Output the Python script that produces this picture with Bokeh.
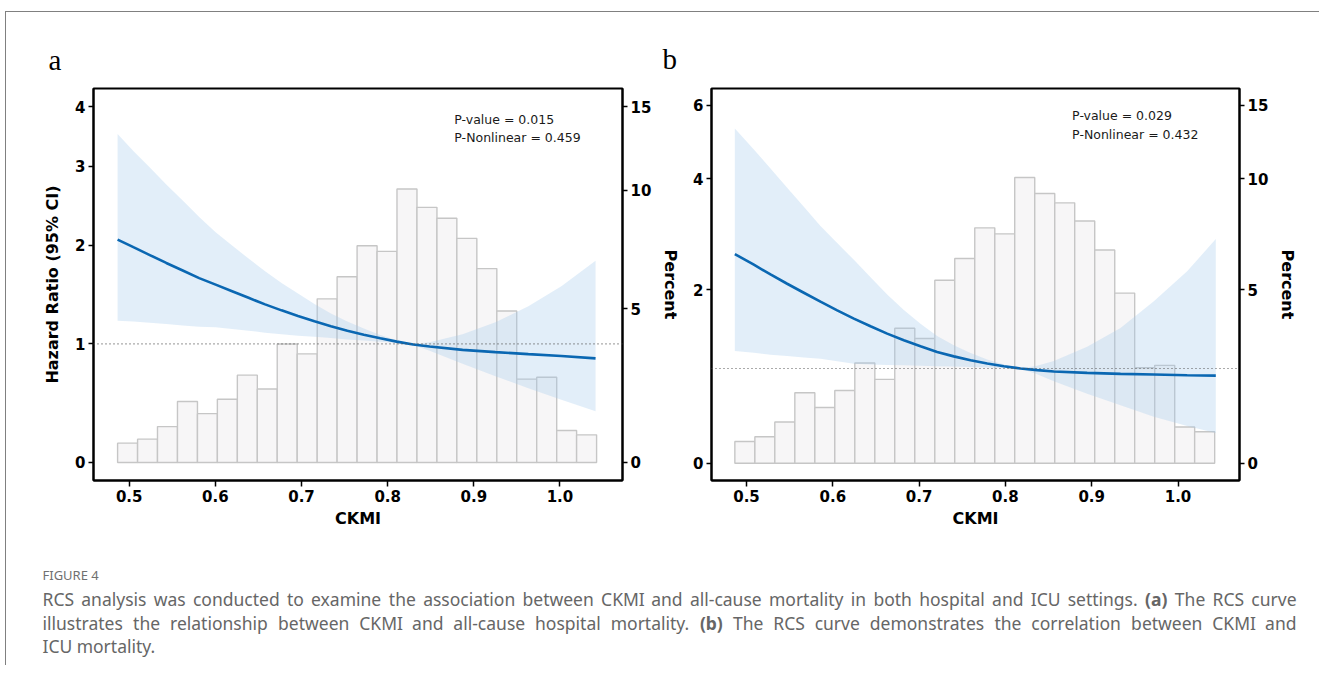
import numpy as np
from bokeh.plotting import figure
from bokeh.layouts import row, column
from bokeh.models import (Range1d, FixedTicker, CustomJSTickFormatter, LinearAxis,
                          Span, Label, CustomJSTransform, ColumnDataSource)
from bokeh.transform import transform
from bokeh.core.properties import value
from bokeh.embed import file_html
from bokeh.resources import INLINE

# ---------------- data ----------------
bin_edges = [0.4865, 0.5097, 0.5328, 0.5560, 0.5792, 0.6023, 0.6255, 0.6487, 0.6718,
             0.6950, 0.7182, 0.7413, 0.7645, 0.7877, 0.8108, 0.8340, 0.8572, 0.8803,
             0.9035, 0.9267, 0.9498, 0.9730, 0.9962, 1.0193, 1.0425]

# histogram of CKMI (percent) - panel a (hospital) and panel b (ICU)
pct_a = [0.57, 0.69, 1.07, 1.85, 1.47, 1.92, 2.70, 2.25, 3.75, 3.41, 5.37, 6.22,
         7.48, 7.24, 10.07, 9.18, 8.68, 7.79, 6.54, 4.92, 2.57, 2.63, 0.95, 0.82]
pct_b = [0.54, 0.66, 1.04, 1.82, 1.42, 1.88, 2.66, 2.19, 3.71, 3.39, 5.34, 6.17,
         7.47, 7.20, 10.09, 9.18, 8.68, 7.79, 6.51, 4.88, 2.52, 2.59, 0.91, 0.79]

# RCS curve + 95% CI, panel a
ckmi_a = [0.4865, 0.5048, 0.5239, 0.5430, 0.5621, 0.5812, 0.6003, 0.6194, 0.6385,
          0.6577, 0.6768, 0.6959, 0.7150, 0.7341, 0.7532, 0.7723, 0.7914, 0.8105,
          0.8296, 0.8487, 0.8869, 0.9251, 0.9633, 1.0016, 1.0413]
hr_a = [2.064, 1.978, 1.8905, 1.8045, 1.724, 1.644, 1.576, 1.509, 1.4425, 1.377,
        1.3185, 1.2645, 1.2135, 1.1665, 1.123, 1.086, 1.052, 1.0215, 0.9945, 0.976,
        0.946, 0.925, 0.907, 0.8895, 0.8685]
lo_a = [1.217, 1.2118, 1.1994, 1.1856, 1.1731, 1.1608, 1.1559, 1.1405, 1.1234, 1.105,
        1.0904, 1.0765, 1.0656, 1.0555, 1.0418, 1.031, 1.0209, 1.0093, 0.990, 0.9378,
        0.8216, 0.7111, 0.6056, 0.5076, 0.4123]
hi_a = [3.500, 3.229, 2.980, 2.746, 2.534, 2.328, 2.149, 1.997, 1.852, 1.716, 1.594,
        1.4854, 1.382, 1.289, 1.2105, 1.144, 1.084, 1.0339, 0.999, 1.0158, 1.089,
        1.2032, 1.3585, 1.5588, 1.8295]

# RCS curve + 95% CI, panel b
ckmi_b = [0.4865, 0.5085, 0.5278, 0.5471, 0.5664, 0.5857, 0.6051, 0.6244, 0.6437,
          0.6630, 0.6823, 0.7016, 0.7209, 0.7402, 0.7596, 0.7789, 0.7982, 0.8175,
          0.8368, 0.8561, 0.8947, 0.9334, 0.9720, 1.0106, 1.0438]
hr_b = [2.538, 2.37, 2.222, 2.085, 1.957, 1.833, 1.717, 1.607, 1.509, 1.417, 1.335,
        1.262, 1.193, 1.141, 1.095, 1.057, 1.026, 1.000, 0.981, 0.965, 0.950, 0.938,
        0.931, 0.923, 0.919]
lo_b = [1.205, 1.183, 1.160, 1.144, 1.129, 1.112, 1.084, 1.056, 1.045, 1.040, 1.036,
        1.032, 1.027, 1.022, 1.016, 1.011, 1.006, 1.000, 0.933, 0.856, 0.718, 0.592,
        0.4717, 0.3753, 0.3029]
hi_b = [5.346, 4.749, 4.256, 3.799, 3.392, 3.022, 2.720, 2.446, 2.179, 1.931, 1.720,
        1.543, 1.386, 1.274, 1.180, 1.105, 1.046, 1.000, 1.031, 1.088, 1.257, 1.486,
        1.838, 2.270, 2.789]

x_ticks = [0.5, 0.6, 0.7, 0.8, 0.9, 1.0]
x_tick_labels = ["0.5", "0.6", "0.7", "0.8", "0.9", "1.0"]
hr_ticks_a = [0, 1, 2, 3, 4]
hr_ticks_b = [0, 2, 4, 6]
pct_ticks = [0, 5, 10, 15]

caption_head = "FIGURE 4"
caption_lines = [
    "RCS analysis was conducted to examine the association between CKMI and all-cause mortality in both hospital and ICU settings. (a) The RCS curve",
    "illustrates the relationship between CKMI and all-cause hospital mortality. (b) The RCS curve demonstrates the correlation between CKMI and",
    "ICU mortality.",
]

# ---------------- styling helpers ----------------
WARP_JS_V = """
const out = new Array(xs.length);
for (let i = 0; i < xs.length; i++) {
  const h = xs[i] / s;
  let v = 0, pw = h;
  for (let k = 0; k < c.length; k++) { v += c[k] * pw; pw *= h; }
  out[i] = v;
}
return out;
"""
WARP_JS = """
const h = x / s;
let v = 0, pw = h;
for (let k = 0; k < c.length; k++) { v += c[k] * pw; pw *= h; }
return v;
"""

PANEL_H = 533


def warp_py(h, c):
    return float(sum(ck * h ** (k + 1) for k, ck in enumerate(c)))


def labels_fmt(labels):
    return CustomJSTickFormatter(args=dict(labels=labels), code="return labels[index];")


def style_axis(ax):
    ax.axis_line_width = 2
    ax.axis_line_color = "black"
    ax.major_tick_out = 5
    ax.major_tick_in = 0
    ax.major_tick_line_width = 1.5
    ax.major_tick_line_color = "black"
    ax.minor_tick_line_color = None
    ax.major_label_text_font = "DejaVu Sans"
    ax.major_label_text_font_style = "bold"
    ax.major_label_text_font_size = "15px"
    ax.major_label_text_color = "black"
    ax.major_label_standoff = 3
    ax.axis_label_text_font = "DejaVu Sans"
    ax.axis_label_text_font_style = "bold"
    ax.axis_label_text_font_size = "16px"
    ax.axis_label_text_color = "black"


def build_panel(width, borders, xr, yr, coeffs, pct_scale, hr_ticks, ckmi, hr, lo, hi,
                pct, left_label, letter, letter_offset, letter_standoff, pv_text, pv_xy,
                transparent_border=False):
    top, right, bottom, left = borders
    p = figure(width=width, height=PANEL_H, x_range=Range1d(*xr), y_range=Range1d(*yr),
               min_border_top=top, min_border_right=right, min_border_bottom=bottom,
               min_border_left=left, toolbar_location=None, output_backend="svg",
               background_fill_color="white",
               border_fill_color=None if transparent_border else "white")
    p.xgrid.visible = False
    p.ygrid.visible = False
    p.outline_line_color = "black"
    p.outline_line_width = 2

    p.title.text = letter
    p.title.text_font = "Liberation Serif"
    p.title.text_font_size = "29px"
    p.title.text_font_style = "normal"
    p.title.text_color = "black"
    p.title.align = "left"
    p.title.offset = letter_offset
    p.title.standoff = letter_standoff

    t_hr = CustomJSTransform(args=dict(c=coeffs, s=1.0), func=WARP_JS, v_func=WARP_JS_V)
    t_pct = CustomJSTransform(args=dict(c=coeffs, s=pct_scale), func=WARP_JS, v_func=WARP_JS_V)

    hist = ColumnDataSource(dict(left=bin_edges[:-1], right=bin_edges[1:], pct=pct))
    p.quad(left="left", right="right", bottom=0, top=transform("pct", t_pct), source=hist,
           fill_color="#f7f6f7", line_color="#c6c6c6", line_width=1.4)

    band = ColumnDataSource(dict(x=ckmi, lo=lo, hi=hi, hr=hr))
    p.varea(x="x", y1=transform("lo", t_hr), y2=transform("hi", t_hr), source=band,
            fill_color="#a6cbec", fill_alpha=0.32)

    p.add_layout(Span(location=warp_py(1.0, coeffs), dimension="width", line_color="#555555",
                      line_dash="1 3", line_width=1.2))

    p.line(x="x", y=transform("hr", t_hr), source=band, line_color="#0a67b2", line_width=2.6)

    # axes
    p.xaxis.ticker = FixedTicker(ticks=x_ticks)
    p.xaxis.formatter = labels_fmt(x_tick_labels)
    p.xaxis.axis_label = "CKMI"
    p.xaxis.axis_label_standoff = 4
    style_axis(p.xaxis[0])
    p.xaxis.major_tick_out = 6

    p.yaxis.ticker = FixedTicker(ticks=[warp_py(h, coeffs) for h in hr_ticks])
    p.yaxis.formatter = labels_fmt([str(h) for h in hr_ticks])
    style_axis(p.yaxis[0])
    if left_label:
        p.yaxis.axis_label = left_label
        p.yaxis.axis_label_standoff = 10

    ax_r = LinearAxis(ticker=FixedTicker(ticks=[warp_py(v / pct_scale, coeffs) for v in pct_ticks]),
                      formatter=labels_fmt([str(v) for v in pct_ticks]), axis_label="Percent")
    style_axis(ax_r)
    ax_r.axis_label_standoff = 7
    p.add_layout(ax_r, "right")

    for txt, yy in zip(pv_text, pv_xy[1]):
        p.add_layout(Label(x=pv_xy[0], y=yy, text=txt, text_font="DejaVu Sans",
                           text_font_size="12.5px", text_color="#1a1a1a", text_baseline="middle"))
    return p


fa = build_panel(677, (76, 57, 60, 87), (0.45853, 1.07258), (-18.3, 378.7), [130.0, -10.0], 3.75,
                 hr_ticks_a, ckmi_a, hr_a, lo_a, hi_a, pct_a, "Hazard Ratio (95% CI)",
                 "a", -45, 26, ["P-value = 0.015", "P-Nonlinear = 0.459"],
                 (0.8774, [347.4, 329.0]))

# panel b overlaps panel a's right margin by 30px (transparent border) so that
# its letter "b" can sit left of its own axis, as in the reference
fb = build_panel(652, (75, 66, 65, 58), (0.45944, 1.07126), (-17.3, 375.7),
                 [102.283, -6.725, -0.6583, 0.1], 2.5,
                 hr_ticks_b, ckmi_b, hr_b, lo_b, hi_b, pct_b, None,
                 "b", -49, 28, ["P-value = 0.029", "P-Nonlinear = 0.432"],
                 (0.8773, [348.3, 330.0]), transparent_border=True)
fb.margin = (0, 0, 0, -30)

# ---------------- caption (justified, word by word) ----------------
CW = {" ": 260, "a": 561, "b": 615, "c": 480, "d": 615, "e": 564, "f": 344, "g": 615,
      "h": 618, "i": 258, "j": 258, "k": 534, "l": 258, "m": 935, "n": 618, "o": 605,
      "p": 615, "q": 615, "r": 413, "s": 479, "t": 361, "u": 618, "v": 508, "w": 786,
      "x": 529, "y": 510, "z": 470, "C": 632, "I": 329, "K": 617, "M": 873, "R": 618,
      "S": 549, "T": 556, "U": 730, "(": 296, ")": 296, ".": 268, "-": 322}
CWB = {"(": 343, ")": 343, "a": 607, "b": 635}
CAP_SIZE = 17.5
CAP_LEFT, CAP_RIGHT = 42, 1296
CAP_Y = [598, 622, 645]


def word_w(word, bold):
    tab = CWB if bold else CW
    return sum(tab.get(ch, CW.get(ch, 560)) for ch in word) * CAP_SIZE / 1000.0


cx, cy, ct, cs = [], [], [], []
for li, line in enumerate(caption_lines):
    words = line.split(" ")
    bolds = [w in ("(a)", "(b)") for w in words]
    widths = [word_w(w, b) for w, b in zip(words, bolds)]
    justify = li < len(caption_lines) - 1
    if justify and len(words) > 1:
        gap = (CAP_RIGHT - CAP_LEFT - sum(widths)) / (len(words) - 1)
    else:
        gap = CW[" "] * CAP_SIZE / 1000.0
    xpos = CAP_LEFT
    for w, b, wd in zip(words, bolds, widths):
        cx.append(xpos)
        cy.append(CAP_Y[li])
        ct.append(w)
        cs.append("bold" if b else "normal")
        xpos += wd + gap

fc = figure(width=1313, height=120, x_range=Range1d(6, 1319), y_range=Range1d(665, 545),
            min_border=0, toolbar_location=None, output_backend="svg",
            x_axis_location=None, y_axis_location=None)
fc.xgrid.visible = False
fc.ygrid.visible = False
fc.outline_line_color = None

fc.add_layout(Label(x=CAP_LEFT, y=574, text=caption_head, text_font="Noto Sans",
                    text_font_size="13px", text_color="#707070", text_baseline="middle"))
cap_src = ColumnDataSource(dict(x=cx, y=cy, text=ct, style=cs))
fc.text(x="x", y="y", text="text", source=cap_src, text_font=value("Noto Sans"),
        text_font_size=value(f"{CAP_SIZE}px"), text_font_style="style",
        text_color="#666666", text_baseline="middle", text_align="left")

layout = column(row(fa, fb), fc, margin=(11, 0, 0, 5),
                styles={"border-top": "1px solid #808080", "border-left": "1px solid #808080"})

open("out.html", "w").write(file_html(layout, INLINE))
